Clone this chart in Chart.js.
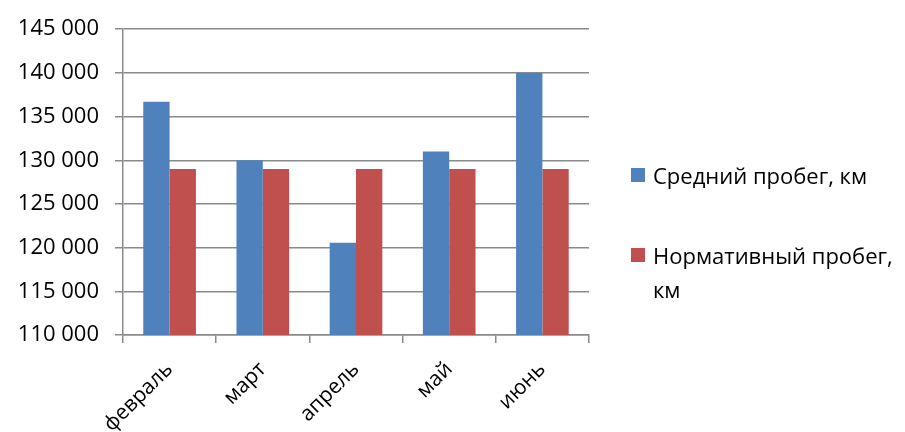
<!DOCTYPE html>
<html>
<head>
<meta charset="utf-8">
<script src="https://cdn.jsdelivr.net/npm/chart.js@4"></script>
<style>
  html, body { margin: 0; padding: 0; background: #fff; }
  #wrap { position: relative; width: 905px; height: 432px; overflow: hidden; }
  #legend { position: absolute; left: 631px; top: 158px; font-family: "Open Sans", sans-serif; font-size: 22px; color: #000; }
  .item { position: relative; padding-left: 22px; }
  .box { position: absolute; left: 0; width: 14px; height: 14px; }
</style>
</head>
<body>
<div id="wrap">
  <canvas id="myChart1" width="905" height="432"></canvas>
  <div id="legend"></div>
</div>
<script>
var months = ['февраль', 'март', 'апрель', 'май', 'июнь'];
var avgRun = [136700, 130000, 120550, 131000, 140000];
var normRun = [129000, 129000, 129000, 129000, 129000];
var seriesNames = [['Средний пробег, км'], ['Нормативный пробег,', 'км']];
var blue = '#4F81BD';
var red = '#C0504D';
var gridColor = '#8a8a8a';

function fmt(v) {
  return String(v).replace(/\B(?=(\d{3})+(?!\d))/g, ' ');
}

var ctx = document.getElementById('myChart1').getContext('2d');
var chart = new Chart(ctx, {
  type: 'bar',
  data: {
    labels: months,
    datasets: [{
      label: seriesNames[0].join(' '),
      backgroundColor: blue,
      data: avgRun
    },
    {
      label: seriesNames[1].join(' '),
      backgroundColor: red,
      data: normRun
    }]
  },
  options: {
    responsive: false,
    animation: false,
    layout: { padding: { top: 26, right: 316, left: 0, bottom: 0 } },
    plugins: {
      legend: { display: false },
      tooltip: { enabled: false }
    },
    datasets: {
      bar: { categoryPercentage: 0.565, barPercentage: 1 }
    },
    scales: {
      x: {
        grid: { drawOnChartArea: false, offset: true, color: gridColor, lineWidth: 1.5, tickLength: 8 },
        border: { color: gridColor, width: 1.5 },
        ticks: {
          color: '#000',
          font: { family: 'Open Sans', size: 21 },
          minRotation: 45, maxRotation: 45, padding: 14
        },
        afterFit: function (scale) { scale.height = 97; }
      },
      y: {
        min: 110000, max: 145000,
        grid: { color: gridColor, lineWidth: 1.5, tickLength: 8 },
        border: { color: gridColor, width: 1.5 },
        ticks: {
          stepSize: 5000,
          color: '#000',
          padding: 16,
          font: { family: 'Open Sans', size: 22 },
          callback: function (v) { return fmt(v); }
        },
        afterFit: function (scale) { scale.width = 123; }
      }
    }
  }
});

// legend built from the dataset colours and names
var legend = document.getElementById('legend');
var colors = [blue, red];
var tops = [0, 80];
seriesNames.forEach(function (lines, i) {
  var item = document.createElement('div');
  item.className = 'item';
  item.style.position = 'absolute';
  item.style.top = tops[i] + 'px';
  item.style.whiteSpace = 'nowrap';
  item.style.lineHeight = '34px';
  item.innerHTML = '<span class="box" style="top:10px;background:' + colors[i] + '"></span>' + lines.join('<br>');
  legend.appendChild(item);
});
</script>
</body>
</html>
